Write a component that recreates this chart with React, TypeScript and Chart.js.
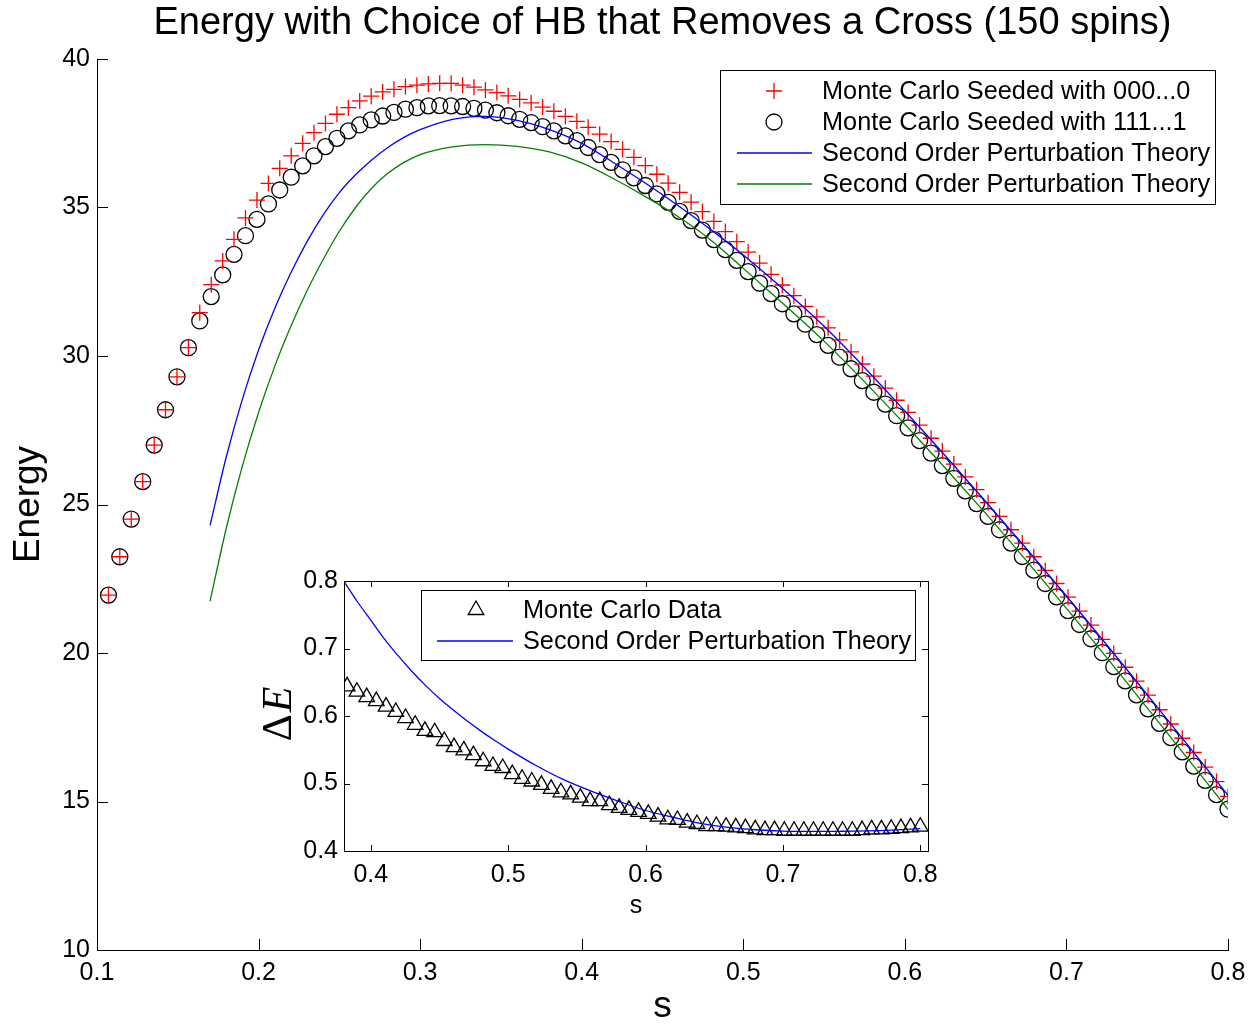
import React, { useEffect, useRef } from 'react';
import { Chart, registerables } from 'chart.js';

Chart.register(...registerables);

const FONT = '"Liberation Sans", Arial, Helvetica, sans-serif';
const SERIF = '"Liberation Serif", "Times New Roman", serif';

const TITLE = 'Energy with Choice of HB that Removes a Cross (150 spins)';
const X_TICKS = [0.1, 0.2, 0.3, 0.4, 0.5, 0.6, 0.7, 0.8];
const Y_TICKS = [10, 15, 20, 25, 30, 35, 40];
const INSET_X_TICKS = [0.4, 0.5, 0.6, 0.7, 0.8];
const INSET_Y_TICKS = [0.4, 0.5, 0.6, 0.7, 0.8];

const LEGEND_MAIN = [
  'Monte Carlo Seeded with 000...0',
  'Monte Carlo Seeded with 111...1',
  'Second Order Perturbation Theory',
  'Second Order Perturbation Theory',
];
const LEGEND_INSET = ['Monte Carlo Data', 'Second Order Perturbation Theory'];

// transverse field s of the Monte Carlo runs
const S_MC = [
  0.1071, 0.1141, 0.1212, 0.1283, 0.1354, 0.1424, 0.1495, 0.1566, 0.1636, 0.1707,
  0.1778, 0.1848, 0.1919, 0.1990, 0.2061, 0.2131, 0.2202, 0.2273, 0.2343, 0.2414,
  0.2485, 0.2556, 0.2626, 0.2697, 0.2768, 0.2838, 0.2909, 0.2980, 0.3051, 0.3121,
  0.3192, 0.3263, 0.3333, 0.3404, 0.3475, 0.3545, 0.3616, 0.3687, 0.3758, 0.3828,
  0.3899, 0.3970, 0.4040, 0.4111, 0.4182, 0.4253, 0.4323, 0.4394, 0.4465, 0.4535,
  0.4606, 0.4677, 0.4747, 0.4818, 0.4889, 0.4960, 0.5030, 0.5101, 0.5172, 0.5242,
  0.5313, 0.5384, 0.5455, 0.5525, 0.5596, 0.5667, 0.5737, 0.5808, 0.5879, 0.5949,
  0.6020, 0.6091, 0.6162, 0.6232, 0.6303, 0.6374, 0.6444, 0.6515, 0.6586, 0.6657,
  0.6727, 0.6798, 0.6869, 0.6939, 0.7010, 0.7081, 0.7152, 0.7222, 0.7293, 0.7364,
  0.7434, 0.7505, 0.7576, 0.7646, 0.7717, 0.7788, 0.7859, 0.7929, 0.8000,
];

// Monte Carlo seeded with 000...0 (red +)
const E_SEED_ZERO = [
  21.95, 23.24, 24.51, 25.77, 27.0, 28.19, 29.3, 30.28, 31.46, 32.4,
  33.2, 33.93, 34.65, 35.25, 35.81, 36.32, 36.74, 37.16, 37.52, 37.83,
  38.14, 38.36, 38.59, 38.75, 38.89, 38.98, 39.07, 39.12, 39.16, 39.18,
  39.18, 39.12, 39.05, 38.96, 38.87, 38.76, 38.64, 38.52, 38.38, 38.24,
  38.07, 37.9, 37.7, 37.47, 37.22, 36.96, 36.69, 36.41, 36.12, 35.82,
  35.51, 35.18, 34.86, 34.53, 34.19, 33.85, 33.5, 33.13, 32.75, 32.39,
  32.03, 31.67, 31.32, 30.95, 30.54, 30.14, 29.73, 29.32, 28.92, 28.51,
  28.1, 27.67, 27.23, 26.8, 26.36, 25.93, 25.5, 25.06, 24.6, 24.15,
  23.7, 23.24, 22.78, 22.34, 21.88, 21.41, 20.94, 20.46, 19.99, 19.52,
  19.05, 18.58, 18.09, 17.61, 17.13, 16.65, 16.16, 15.67, 15.17,
];

// Monte Carlo seeded with 111...1 (black o)
const E_SEED_ONE = [
  21.95, 23.24, 24.51, 25.77, 27.0, 28.19, 29.3, 30.28, 31.18, 32.0,
  32.73, 33.42, 34.05, 34.6, 35.12, 35.59, 36.02, 36.4, 36.74, 37.05,
  37.33, 37.58, 37.78, 37.95, 38.08, 38.2, 38.31, 38.36, 38.42, 38.43,
  38.42, 38.4, 38.34, 38.28, 38.19, 38.09, 37.97, 37.86, 37.72, 37.58,
  37.41, 37.25, 37.02, 36.78, 36.52, 36.27, 36.0, 35.74, 35.46, 35.17,
  34.87, 34.56, 34.24, 33.92, 33.58, 33.22, 32.84, 32.45, 32.1, 31.76,
  31.42, 31.07, 30.72, 30.36, 29.96, 29.57, 29.17, 28.78, 28.38, 27.99,
  27.58, 27.15, 26.73, 26.31, 25.88, 25.46, 25.03, 24.6, 24.15, 23.7,
  23.25, 22.79, 22.34, 21.89, 21.43, 20.96, 20.48, 20.01, 19.54, 19.06,
  18.59, 18.12, 17.63, 17.15, 16.67, 16.19, 15.71, 15.23, 14.74,
];

// second order perturbation theory curves
const S_PT = [
  0.17, 0.18, 0.19, 0.20, 0.21, 0.22, 0.23, 0.24, 0.25, 0.26, 0.27, 0.28, 0.29, 0.30,
  0.32, 0.34, 0.36, 0.38, 0.40, 0.42, 0.44, 0.46, 0.48, 0.50, 0.55, 0.60, 0.65, 0.70, 0.75, 0.80,
];
const E_PT_BLUE = [
  24.3, 26.6, 28.55, 30.2, 31.6, 32.8, 33.85, 34.75, 35.5, 36.1, 36.6, 37.02, 37.36, 37.62,
  37.97, 38.07, 37.93, 37.62, 37.16, 36.5, 35.8, 35.05, 34.25, 33.4, 31.0, 28.15, 25.1, 21.92, 18.6, 15.21,
];
const E_PT_GREEN = [
  21.75, 24.2, 26.3, 28.1, 29.65, 31.0, 32.2, 33.25, 34.2, 35.0, 35.65, 36.15, 36.52, 36.78,
  37.04, 37.12, 37.06, 36.87, 36.5, 35.96, 35.35, 34.68, 33.9, 32.95, 30.5, 27.7, 24.7, 21.5, 18.15, 14.74,
];

// inset: energy gap
const S_GAP = [
  0.3828, 0.3899, 0.3970, 0.4040, 0.4111, 0.4182, 0.4253, 0.4323, 0.4394, 0.4465,
  0.4535, 0.4606, 0.4677, 0.4747, 0.4818, 0.4889, 0.4960, 0.5030, 0.5101, 0.5172,
  0.5242, 0.5313, 0.5384, 0.5455, 0.5525, 0.5596, 0.5667, 0.5737, 0.5808, 0.5879,
  0.5949, 0.6020, 0.6091, 0.6162, 0.6232, 0.6303, 0.6374, 0.6444, 0.6515, 0.6586,
  0.6657, 0.6727, 0.6798, 0.6869, 0.6939, 0.7010, 0.7081, 0.7152, 0.7222, 0.7293,
  0.7364, 0.7434, 0.7505, 0.7576, 0.7646, 0.7717, 0.7788, 0.7859, 0.7929, 0.8000,
];
const GAP_MC = [
  0.644, 0.636, 0.628, 0.622, 0.614, 0.606, 0.597, 0.587, 0.578, 0.576,
  0.563, 0.554, 0.549, 0.542, 0.533, 0.526, 0.523, 0.514, 0.507, 0.503,
  0.498, 0.492, 0.487, 0.484, 0.479, 0.474, 0.474, 0.468, 0.464, 0.461,
  0.458, 0.455, 0.451, 0.447, 0.446, 0.442, 0.44, 0.437, 0.437, 0.436,
  0.435, 0.434, 0.432, 0.431, 0.431, 0.43, 0.43, 0.43, 0.43, 0.43,
  0.43, 0.43, 0.43, 0.431, 0.432, 0.432, 0.433, 0.434, 0.435, 0.436,
];
const S_GAP_PT = [
  0.38, 0.39, 0.40, 0.41, 0.42, 0.43, 0.44, 0.45, 0.46, 0.47, 0.48, 0.49, 0.50,
  0.52, 0.54, 0.56, 0.58, 0.60, 0.62, 0.64, 0.66, 0.68, 0.70, 0.72, 0.74, 0.76, 0.78, 0.80,
];
const GAP_PT = [
  0.801, 0.77, 0.742, 0.714, 0.689, 0.666, 0.645, 0.626, 0.609, 0.593, 0.578, 0.564, 0.551,
  0.527, 0.506, 0.489, 0.474, 0.46, 0.45, 0.441, 0.435, 0.4315, 0.4295, 0.429, 0.4292, 0.4297, 0.431, 0.433,
];

const RED = '#ff0000';
const BLUE = '#0000ff';
const GREEN = '#008000';
const BLACK = '#000000';

const INSET_LEFT = 250;
const INSET_TOP = 560;

const pts = (xs: number[], ys: number[]) => xs.map((x, i) => ({ x, y: ys[i] }));

function drawMarker(ctx: CanvasRenderingContext2D, kind: string, x: number, y: number, r: number, color: string) {
  ctx.save();
  ctx.strokeStyle = color;
  ctx.lineWidth = 1.3;
  ctx.beginPath();
  if (kind === 'cross') {
    ctx.moveTo(x - r, y); ctx.lineTo(x + r, y);
    ctx.moveTo(x, y - r); ctx.lineTo(x, y + r);
  } else if (kind === 'circle') {
    ctx.arc(x, y, r, 0, Math.PI * 2);
  } else if (kind === 'triangle') {
    const a = (2 * Math.PI) / 3;
    ctx.moveTo(x, y - r);
    ctx.lineTo(x + Math.sin(a) * r, y - Math.cos(a) * r);
    ctx.lineTo(x + Math.sin(2 * a) * r, y - Math.cos(2 * a) * r);
    ctx.closePath();
  }
  ctx.stroke();
  ctx.restore();
}

type LegendItem = { label: string; kind: string; color: string; r?: number };

function drawLegend(
  ctx: CanvasRenderingContext2D,
  box: { x: number; y: number; w: number; h: number },
  rows: number[], sampleX: number, lineX0: number, lineX1: number, textX: number, items: LegendItem[],
) {
  ctx.save();
  ctx.fillStyle = '#fff';
  ctx.fillRect(box.x, box.y, box.w, box.h);
  ctx.strokeStyle = BLACK;
  ctx.lineWidth = 1;
  ctx.strokeRect(box.x + 0.5, box.y + 0.5, box.w, box.h);
  items.forEach((it, i) => {
    const y = rows[i];
    if (it.kind === 'line') {
      ctx.save();
      ctx.strokeStyle = it.color;
      ctx.lineWidth = 1.3;
      ctx.beginPath();
      ctx.moveTo(lineX0, y);
      ctx.lineTo(lineX1, y);
      ctx.stroke();
      ctx.restore();
    } else {
      drawMarker(ctx, it.kind, sampleX, y, it.r || 8, it.color);
    }
    ctx.fillStyle = BLACK;
    ctx.font = `25.3px ${FONT}`;
    ctx.textAlign = 'left';
    ctx.textBaseline = 'middle';
    ctx.fillText(it.label, textX, y + 1);
  });
  ctx.restore();
}

function drawInwardTicks(chart: any, len: number, sides: string[]) {
  const { ctx, chartArea, scales } = chart;
  const { left, right, top, bottom } = chartArea;
  ctx.save();
  ctx.strokeStyle = BLACK;
  ctx.lineWidth = 1;
  ctx.beginPath();
  scales.x.ticks.forEach((t: any) => {
    const px = Math.round(scales.x.getPixelForValue(t.value)) + 0.5;
    if (sides.includes('bottom')) { ctx.moveTo(px, bottom); ctx.lineTo(px, bottom - len); }
    if (sides.includes('top')) { ctx.moveTo(px, top); ctx.lineTo(px, top + len); }
  });
  scales.y.ticks.forEach((t: any) => {
    const py = Math.round(scales.y.getPixelForValue(t.value)) + 0.5;
    if (sides.includes('left')) { ctx.moveTo(left, py); ctx.lineTo(left + len, py); }
    if (sides.includes('right')) { ctx.moveTo(right, py); ctx.lineTo(right - len, py); }
  });
  ctx.stroke();
  ctx.restore();
}

const mainDecor = {
  id: 'mainDecor',
  afterDraw(chart: any) {
    const ctx = chart.ctx as CanvasRenderingContext2D;
    drawInwardTicks(chart, 11, ['left', 'bottom']);
    drawLegend(
      ctx, { x: 720, y: 70, w: 495, h: 134 }, [91, 122, 153, 184], 774, 737, 812, 822,
      [
        { label: LEGEND_MAIN[0], kind: 'cross', color: RED, r: 8 },
        { label: LEGEND_MAIN[1], kind: 'circle', color: BLACK, r: 8 },
        { label: LEGEND_MAIN[2], kind: 'line', color: BLUE },
        { label: LEGEND_MAIN[3], kind: 'line', color: GREEN },
      ],
    );
  },
};

const insetDecor = {
  id: 'insetDecor',
  beforeDraw(chart: any) {
    const { ctx, chartArea } = chart;
    ctx.save();
    ctx.fillStyle = '#fff';
    ctx.fillRect(chartArea.left, chartArea.top, chartArea.right - chartArea.left, chartArea.bottom - chartArea.top);
    ctx.restore();
  },
  afterDraw(chart: any) {
    const ctx = chart.ctx as CanvasRenderingContext2D;
    const { left, right, top, bottom } = chart.chartArea;
    ctx.save();
    ctx.strokeStyle = BLACK;
    ctx.lineWidth = 1;
    ctx.strokeRect(Math.round(left) + 0.5, Math.round(top) + 0.5, Math.round(right - left), Math.round(bottom - top));
    ctx.restore();
    drawInwardTicks(chart, 6, ['left', 'right', 'top', 'bottom']);
    drawLegend(
      ctx, { x: 421 - INSET_LEFT, y: 590 - INSET_TOP, w: 494, h: 70 }, [610 - INSET_TOP, 641 - INSET_TOP],
      476 - INSET_LEFT, 437 - INSET_LEFT, 513 - INSET_LEFT, 523 - INSET_LEFT,
      [
        { label: LEGEND_INSET[0], kind: 'triangle', color: BLACK, r: 9 },
        { label: LEGEND_INSET[1], kind: 'line', color: BLUE },
      ],
    );
    // y label: \Delta E
    ctx.save();
    ctx.translate(280 - INSET_LEFT, 714 - INSET_TOP);
    ctx.rotate(-Math.PI / 2);
    ctx.fillStyle = BLACK;
    ctx.textBaseline = 'middle';
    ctx.textAlign = 'left';
    ctx.font = `42px ${SERIF}`;
    const wD = ctx.measureText('\u0394').width;
    ctx.font = `italic 42px ${SERIF}`;
    const wE = ctx.measureText('E').width;
    const x0 = -(wD + wE + 2) / 2;
    ctx.font = `42px ${SERIF}`;
    ctx.fillText('\u0394', x0, 0);
    ctx.font = `italic 42px ${SERIF}`;
    ctx.fillText('E', x0 + wD + 2, 0);
    ctx.restore();
  },
};

const tickFont = { family: FONT, size: 25 };

function mainConfig(): any {
  return {
    type: 'line',
    data: {
      datasets: [
        {
          label: LEGEND_MAIN[3], data: pts(S_PT, E_PT_GREEN), borderColor: GREEN, borderWidth: 1.3,
          pointRadius: 0, cubicInterpolationMode: 'monotone', fill: false, order: 0,
        },
        {
          label: LEGEND_MAIN[2], data: pts(S_PT, E_PT_BLUE), borderColor: BLUE, borderWidth: 1.3,
          pointRadius: 0, cubicInterpolationMode: 'monotone', fill: false, order: 1,
        },
        {
          label: LEGEND_MAIN[0], data: pts(S_MC, E_SEED_ZERO), showLine: false, pointStyle: 'cross',
          pointRadius: 8, pointBorderColor: RED, pointBorderWidth: 1.3, borderColor: RED, order: 2,
        },
        {
          label: LEGEND_MAIN[1], data: pts(S_MC, E_SEED_ONE), showLine: false, pointStyle: 'circle',
          pointRadius: 8, pointBorderColor: BLACK, pointBackgroundColor: 'rgba(0,0,0,0)',
          pointBorderWidth: 1.3, borderColor: BLACK, order: 3,
        },
      ],
    },
    options: {
      responsive: false,
      animation: false,
      events: [],
      layout: { padding: { top: 0, right: 29, bottom: 0, left: 0 } },
      plugins: {
        legend: { display: false },
        tooltip: { enabled: false },
        title: {
          display: true, text: TITLE, fullSize: false, color: BLACK,
          font: { family: FONT, size: 38, weight: 'normal', lineHeight: 1.2 }, padding: { top: 1, bottom: 12.4 },
        },
      },
      scales: {
        x: {
          type: 'linear', min: 0.1, max: 0.8,
          afterBuildTicks: (s: any) => { s.ticks = X_TICKS.map((value) => ({ value })); },
          afterFit: (s: any) => { s.height = 75; },
          grid: { display: false, drawTicks: false },
          border: { display: true, color: BLACK, width: 1 },
          ticks: { color: BLACK, padding: 8, font: tickFont, maxRotation: 0, autoSkip: false, callback: (v: any) => Number(v).toFixed(1) },
          title: { display: true, text: 's', color: BLACK, font: { family: FONT, size: 37, lineHeight: 1 }, padding: { top: 0, bottom: 0 } },
        },
        y: {
          type: 'linear', min: 10, max: 40,
          afterBuildTicks: (s: any) => { s.ticks = Y_TICKS.map((value) => ({ value })); },
          afterFit: (s: any) => { s.width = 97; },
          grid: { display: false, drawTicks: false },
          border: { display: true, color: BLACK, width: 1 },
          ticks: { color: BLACK, padding: 7, font: tickFont, callback: (v: any) => String(v) },
          title: { display: true, text: 'Energy', color: BLACK, font: { family: FONT, size: 37 }, padding: { top: 7, bottom: 0 } },
        },
      },
    },
    plugins: [mainDecor],
  };
}

function insetConfig(): any {
  return {
    type: 'line',
    data: {
      datasets: [
        {
          label: LEGEND_INSET[1], data: pts(S_GAP_PT, GAP_PT), borderColor: BLUE, borderWidth: 1.3,
          pointRadius: 0, cubicInterpolationMode: 'monotone', fill: false, order: 0,
        },
        {
          label: LEGEND_INSET[0], data: pts(S_GAP, GAP_MC), showLine: false, pointStyle: 'triangle',
          pointRadius: 9, pointBorderColor: BLACK, pointBackgroundColor: 'rgba(0,0,0,0)',
          pointBorderWidth: 1.3, borderColor: BLACK, order: 1,
        },
      ],
    },
    options: {
      responsive: false,
      animation: false,
      events: [],
      layout: { padding: { top: 18, right: 22, bottom: 0, left: 0 } },
      plugins: { legend: { display: false }, tooltip: { enabled: false }, title: { display: false } },
      scales: {
        x: {
          type: 'linear', min: 0.3805, max: 0.8056,
          afterBuildTicks: (s: any) => { s.ticks = INSET_X_TICKS.map((value) => ({ value })); },
          afterFit: (s: any) => { s.height = 79; },
          grid: { display: false, drawTicks: false },
          border: { display: false },
          ticks: { color: BLACK, padding: 9, font: tickFont, maxRotation: 0, autoSkip: false, callback: (v: any) => Number(v).toFixed(1) },
          title: { display: true, text: 's', color: BLACK, font: { family: FONT, size: 25 }, padding: { top: 0, bottom: 9 } },
        },
        y: {
          type: 'linear', min: 0.4, max: 0.8,
          afterBuildTicks: (s: any) => { s.ticks = INSET_Y_TICKS.map((value) => ({ value })); },
          afterFit: (s: any) => { s.width = 94; },
          grid: { display: false, drawTicks: false },
          border: { display: false },
          ticks: { color: BLACK, padding: 6, font: tickFont, callback: (v: any) => Number(v).toFixed(1) },
        },
      },
    },
    plugins: [insetDecor],
  };
}

export default function App() {
  const mainRef = useRef<HTMLCanvasElement>(null);
  const insetRef = useRef<HTMLCanvasElement>(null);
  useEffect(() => {
    const main = new Chart(mainRef.current as HTMLCanvasElement, mainConfig());
    const inset = new Chart(insetRef.current as HTMLCanvasElement, insetConfig());
    return () => {
      main.destroy();
      inset.destroy();
    };
  }, []);
  return (
    <div style={{ position: 'absolute', left: 0, top: 0, width: 1257, height: 1025, background: '#fff', overflow: 'hidden' }}>
      <canvas ref={mainRef} width={1257} height={1025} style={{ position: 'absolute', left: 0, top: 0, width: 1257, height: 1025 }} />
      <canvas ref={insetRef} width={700} height={370} style={{ position: 'absolute', left: INSET_LEFT, top: INSET_TOP, width: 700, height: 370 }} />
    </div>
  );
}
